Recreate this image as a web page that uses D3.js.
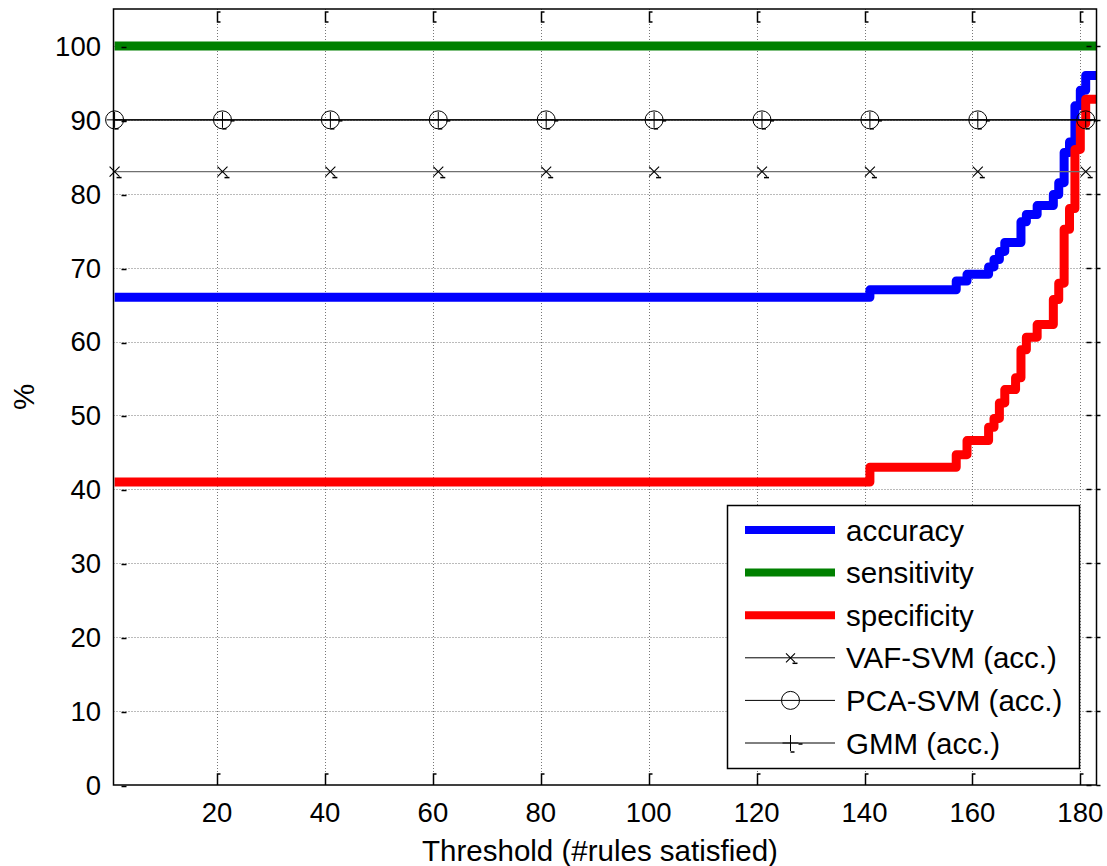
<!DOCTYPE html>
<html>
<head>
<meta charset="utf-8">
<script src="https://cdn.jsdelivr.net/npm/d3@7"></script>
<style>
  html, body { margin: 0; padding: 0; background: #fff; }
  svg text { font-family: 'Liberation Sans', Arial, sans-serif; fill: #000; }
</style>
</head>
<body>
<svg id="board" width="1107" height="866"></svg>
<script>
// Step curves (threshold -> %)
var accThresholds = [1, 141, 157, 159, 163, 164, 165, 166, 169, 170, 172, 175, 176, 177, 178, 179, 180, 181, 183];
var accValues = [66, 67, 68.2, 69.1, 70.1, 71.1, 72.2, 73.4, 76.2, 77.2, 78.4, 79.9, 81.5, 85.6, 87, 91.9, 94, 96, 96];

var sensThresholds = [1, 183];
var sensValues = [100, 100];

var specThresholds = [1, 141, 157, 159, 163, 164, 165, 166, 168, 169, 170, 172, 175, 176, 177, 178, 179, 180, 181, 183];
var specValues = [41, 43, 44.7, 46.6, 48.4, 49.6, 51.7, 53.5, 55.1, 58.9, 60.6, 62.3, 65.7, 67.9, 75.2, 78, 86, 89.5, 92.8, 92.8];

// Baselines drawn as flat lines with markers
var markerThresholds = [1, 21, 41, 61, 81, 101, 121, 141, 161, 181];
var vafAcc = 83;
var pcaAcc = 90;
var gmmAcc = 90;

var xTicks = [20, 40, 60, 80, 100, 120, 140, 160, 180];
var yTicks = [0, 10, 20, 30, 40, 50, 60, 70, 80, 90, 100];

var legendLabels = ['accuracy', 'sensitivity', 'specificity', 'VAF-SVM (acc.)', 'PCA-SVM (acc.)', 'GMM (acc.)'];

var plot = { left: 113.5, right: 1096.5, top: 9, bottom: 785 };

var board = d3.select('#board');

var x = d3.scaleLinear().domain([0.8, 183]).range([plot.left, plot.right]);
var y = d3.scaleLinear().domain([0, 105]).range([plot.bottom, plot.top]);

function zip(xs, ys) {
  return xs.map(function (v, i) { return [v, ys[i]]; });
}

var stepLine = d3.line()
  .x(function (d) { return x(d[0]); })
  .y(function (d) { return y(d[1]); })
  .curve(d3.curveStepAfter);

board.append('defs')
  .append('clipPath')
  .attr('id', 'plot-clip')
  .append('rect')
  .attr('x', plot.left)
  .attr('y', plot.top)
  .attr('width', plot.right - plot.left)
  .attr('height', plot.bottom - plot.top);

// grid
var grid = board.append('g').attr('class', 'grid')
  .attr('stroke', '#777')
  .attr('stroke-width', 1)
  .attr('stroke-dasharray', '1,2');
grid.selectAll('.vgrid')
  .data(xTicks)
  .enter()
  .append('line')
  .attr('x1', function (d) { return Math.round(x(d)) + 0.5; })
  .attr('x2', function (d) { return Math.round(x(d)) + 0.5; })
  .attr('y1', plot.top)
  .attr('y2', plot.bottom);
grid.selectAll('.hgrid')
  .data(yTicks.filter(function (d) { return d > 0; }))
  .enter()
  .append('line')
  .attr('x1', plot.left)
  .attr('x2', plot.right)
  .attr('y1', function (d) { return Math.round(y(d)) + 0.5; })
  .attr('y2', function (d) { return Math.round(y(d)) + 0.5; });

// thick curves
var curves = [
  { name: 'accuracy', color: '#0000ff', pts: zip(accThresholds, accValues) },
  { name: 'sensitivity', color: '#008000', pts: zip(sensThresholds, sensValues) },
  { name: 'specificity', color: '#ff0000', pts: zip(specThresholds, specValues) }
];

var lineRoot = board.append('g').attr('clip-path', 'url(#plot-clip)');
lineRoot.selectAll('.curve')
  .data(curves)
  .enter()
  .append('path')
  .classed('curve', true)
  .attr('d', function (c) { return stepLine(c.pts); })
  .attr('fill', 'none')
  .attr('stroke', function (c) { return c.color; })
  .attr('stroke-width', 9)
  .attr('stroke-linejoin', 'round');

// flat reference lines
var refs = [
  { name: 'vaf', value: vafAcc, color: '#707070', width: 1.3 },
  { name: 'pca', value: pcaAcc, color: '#000', width: 1.3 },
  { name: 'gmm', value: gmmAcc, color: '#000', width: 1 }
];
lineRoot.selectAll('.ref')
  .data(refs)
  .enter()
  .append('line')
  .classed('ref', true)
  .attr('x1', plot.left)
  .attr('x2', plot.right)
  .attr('y1', function (r) { return y(r.value); })
  .attr('y2', function (r) { return y(r.value); })
  .attr('stroke', function (r) { return r.color; })
  .attr('stroke-width', function (r) { return r.width; });

function drawCross(sel, cx, cy, s) {
  sel.append('path')
    .attr('d', 'M' + (cx - s) + ',' + (cy - s) + 'L' + (cx + s) + ',' + (cy + s) +
      'M' + (cx - s) + ',' + (cy + s) + 'L' + (cx + s) + ',' + (cy - s))
    .attr('stroke', '#000')
    .attr('stroke-width', 1.1)
    .attr('fill', 'none');
  sel.append('line')
    .attr('x1', cx + 2).attr('x2', cx + 7)
    .attr('y1', cy + s + 1).attr('y2', cy + s + 1)
    .attr('stroke', '#000').attr('stroke-width', 1.5);
}

function drawCircle(sel, cx, cy, r) {
  sel.append('circle')
    .attr('cx', cx).attr('cy', cy).attr('r', r)
    .attr('fill', 'none')
    .attr('stroke', '#000')
    .attr('stroke-width', 1);
}

function drawPlus(sel, cx, cy, s) {
  sel.append('path')
    .attr('d', 'M' + cx + ',' + (cy - s) + 'L' + cx + ',' + (cy + s) +
      'M' + (cx - s) + ',' + cy + 'L' + (cx + s) + ',' + cy)
    .attr('stroke', '#000')
    .attr('stroke-width', 1)
    .attr('fill', 'none');
  sel.append('line')
    .attr('x1', cx).attr('x2', cx + 4)
    .attr('y1', cy + s + 1).attr('y2', cy + s + 1)
    .attr('stroke', '#000').attr('stroke-width', 1.5);
  sel.append('line')
    .attr('x1', cx + s).attr('x2', cx + s + 4)
    .attr('y1', cy + 1).attr('y2', cy + 1)
    .attr('stroke', '#000').attr('stroke-width', 1.5);
}

var markerRoot = board.append('g').attr('class', 'markers');
markerThresholds.forEach(function (t) {
  drawCross(markerRoot, x(t), y(vafAcc), 5);
  drawCircle(markerRoot, x(t), y(pcaAcc), 9);
  drawPlus(markerRoot, x(t), y(gmmAcc), 8);
});

// box
board.append('rect')
  .attr('x', plot.left)
  .attr('y', plot.top)
  .attr('width', plot.right - plot.left)
  .attr('height', plot.bottom - plot.top)
  .attr('fill', 'none')
  .attr('stroke', '#000')
  .attr('stroke-width', 1.5);

// ticks (inward)
var ticks = board.append('g').attr('stroke', '#000').attr('stroke-width', 1.5);
xTicks.forEach(function (t) {
  var px = Math.round(x(t)) + 0.5;
  ticks.append('path')
    .attr('fill', 'none')
    .attr('d', 'M' + px + ',' + plot.bottom + 'V' + (plot.bottom - 11) + 'h3');
  ticks.append('path')
    .attr('fill', 'none')
    .attr('d', 'M' + (px + 3) + ',' + (plot.top + 3) + 'h-3V' + (plot.top + 13) + 'h3');
});
yTicks.forEach(function (t) {
  var py = Math.round(y(t)) + 0.5;
  ticks.append('line')
    .attr('x1', plot.left + 8).attr('x2', plot.left + 13)
    .attr('y1', py + 1).attr('y2', py + 1);
  ticks.append('line')
    .attr('x1', plot.right - 10).attr('x2', plot.right - 5)
    .attr('y1', py).attr('y2', py);
  ticks.append('line')
    .attr('x1', plot.right).attr('x2', plot.right + 4)
    .attr('y1', py).attr('y2', py);
});

// tick labels
board.append('g')
  .selectAll('text')
  .data(xTicks)
  .enter()
  .append('text')
  .attr('x', function (d) { return x(d); })
  .attr('y', 822)
  .attr('text-anchor', 'middle')
  .attr('font-size', 27.5)
  .text(function (d) { return d; });

board.append('g')
  .selectAll('text')
  .data(yTicks)
  .enter()
  .append('text')
  .attr('x', 101)
  .attr('y', function (d) { return y(d); })
  .attr('dy', '0.36em')
  .attr('text-anchor', 'end')
  .attr('font-size', 27.5)
  .text(function (d) { return d; });

// axis titles
board.append('text')
  .attr('x', 600)
  .attr('y', 861)
  .attr('text-anchor', 'middle')
  .attr('font-size', 29.5)
  .text('Threshold (#rules satisfied)');

board.append('text')
  .attr('transform', 'translate(34,' + ((plot.top + plot.bottom) / 2) + ') rotate(-90)')
  .attr('text-anchor', 'middle')
  .attr('font-size', 29.5)
  .text('%');

// legend
var legend = board.append('g').attr('class', 'legend');
legend.append('rect')
  .attr('x', 727.5)
  .attr('y', 505.5)
  .attr('width', 352)
  .attr('height', 263)
  .attr('fill', '#fff')
  .attr('stroke', '#000')
  .attr('stroke-width', 1.5);

var legendRowY = d3.scalePoint().domain(legendLabels).range([530, 743]);
var legendStyles = [
  { color: '#0000ff', width: 8 },
  { color: '#008000', width: 8 },
  { color: '#ff0000', width: 8 },
  { color: '#000', width: 1 },
  { color: '#000', width: 1 },
  { color: '#000', width: 1 }
];

legendLabels.forEach(function (label, i) {
  var ry = legendRowY(label);
  legend.append('line')
    .attr('x1', 745).attr('x2', 835)
    .attr('y1', ry).attr('y2', ry)
    .attr('stroke', legendStyles[i].color)
    .attr('stroke-width', legendStyles[i].width);
  if (i === 3) drawCross(legend, 790.5, ry, 4.5);
  if (i === 4) drawCircle(legend, 790.5, ry, 9);
  if (i === 5) drawPlus(legend, 790.5, ry, 8);
  legend.append('text')
    .attr('x', 846)
    .attr('y', ry)
    .attr('dy', '0.36em')
    .attr('font-size', 29.5)
    .text(label);
});
</script>
</body>
</html>
